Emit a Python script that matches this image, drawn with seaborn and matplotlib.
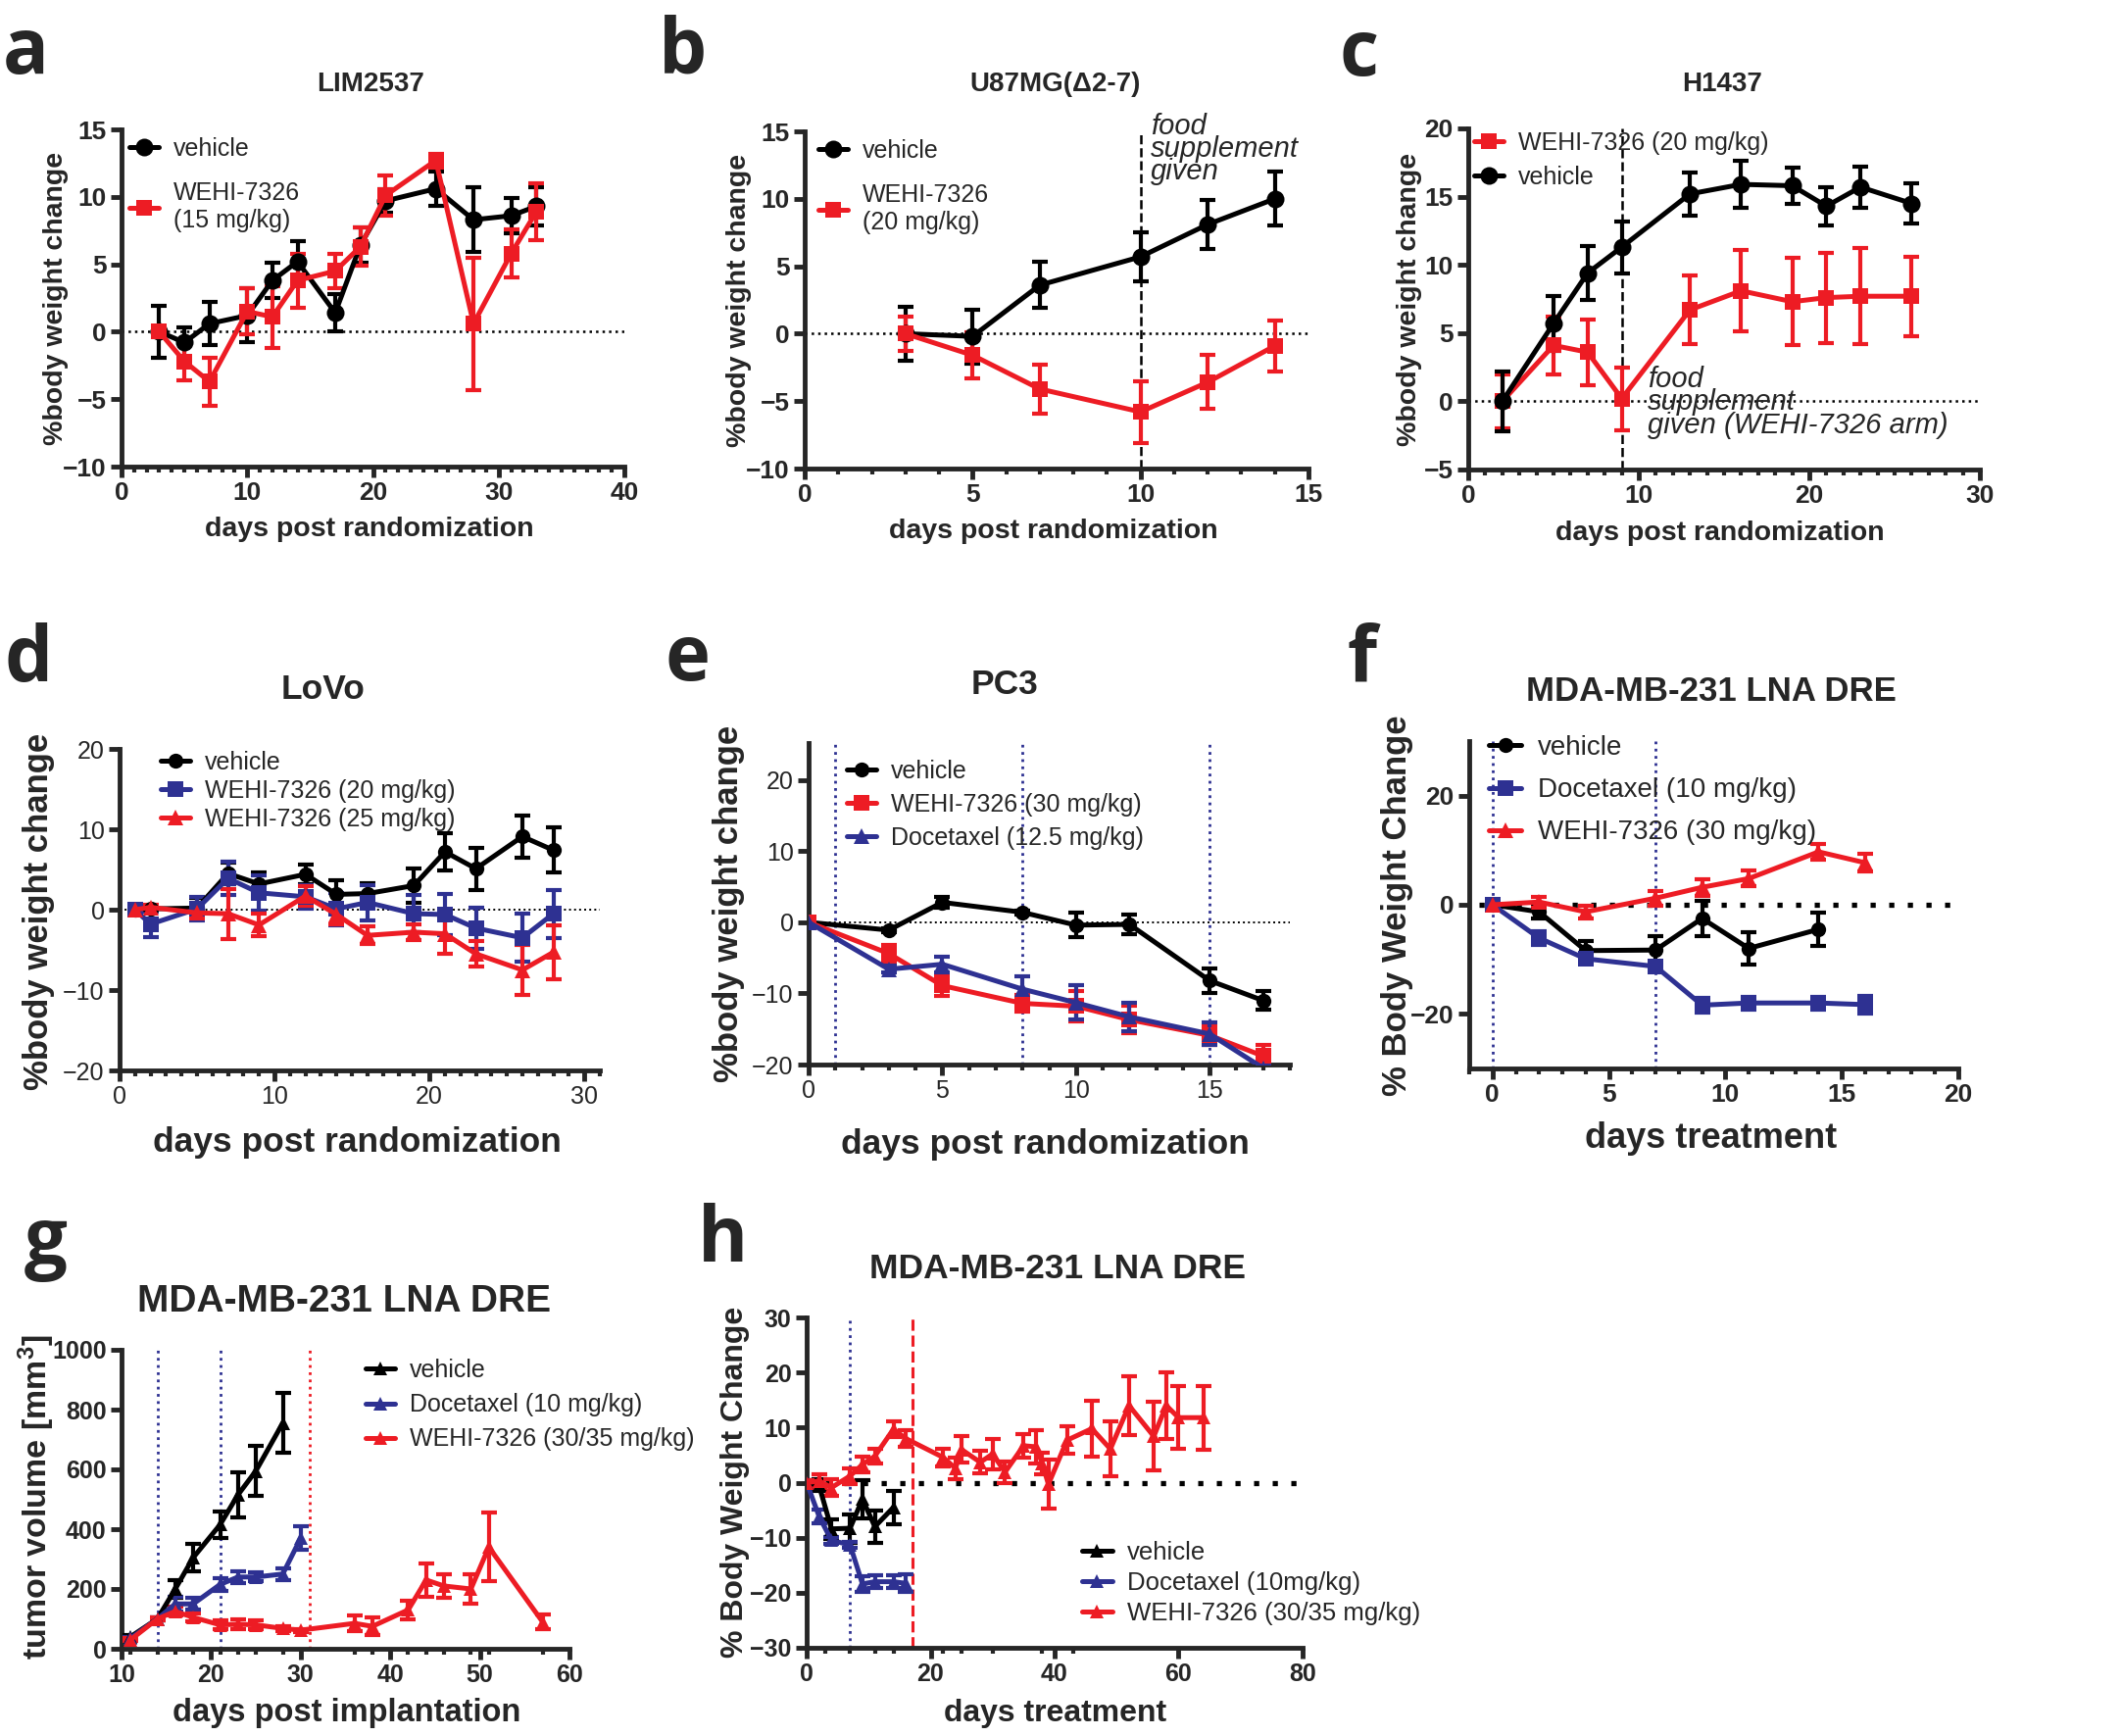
import numpy as np
import pandas as pd
import matplotlib
matplotlib.use('Agg')
import matplotlib.pyplot as plt
import seaborn as sns
from matplotlib.ticker import MultipleLocator, FixedLocator

# ---- data ----
# a  LIM2537
a_days = [3, 5, 7, 10, 12, 14, 17, 19, 21, 25, 28, 31, 33]
a_veh = [0.0, -0.8, 0.6, 1.2, 3.8, 5.2, 1.4, 6.4, 9.7, 10.6, 8.3, 8.6, 9.3]
a_veh_err = [1.9, 1.1, 1.6, 2.0, 1.3, 1.5, 1.4, 1.3, 0.9, 1.3, 2.4, 1.3, 1.4]
a_wehi = [0.0, -2.2, -3.7, 1.5, 1.1, 3.8, 4.5, 6.3, 10.1, 12.7, 0.6, 5.8, 8.9]
a_wehi_err = [0.3, 1.4, 1.8, 1.7, 2.3, 2.0, 1.3, 1.4, 1.5, 0.5, 4.9, 1.8, 2.1]

# b  U87MG
b_days = [3, 5, 7, 10, 12, 14]
b_veh = [0.0, -0.2, 3.6, 5.7, 8.1, 10.0]
b_veh_err = [2.0, 2.0, 1.7, 1.8, 1.8, 2.0]
b_wehi = [0.0, -1.6, -4.1, -5.8, -3.6, -0.9]
b_wehi_err = [1.3, 1.7, 1.8, 2.3, 2.0, 1.9]

# c  H1437
c_days = [2, 5, 7, 9, 13, 16, 19, 21, 23, 26]
c_veh = [0.0, 5.7, 9.4, 11.3, 15.2, 15.9, 15.8, 14.3, 15.7, 14.5]
c_veh_err = [2.2, 2.0, 2.0, 1.9, 1.6, 1.7, 1.3, 1.4, 1.5, 1.5]
c_wehi = [0.0, 4.1, 3.6, 0.2, 6.7, 8.1, 7.3, 7.6, 7.7, 7.7]
c_wehi_err = [2.0, 2.1, 2.4, 2.3, 2.5, 3.0, 3.2, 3.3, 3.5, 2.9]

# d  LoVo
d_days = [1, 2, 5, 7, 9, 12, 14, 16, 19, 21, 23, 26, 28]
d_veh = [0.0, 0.1, 0.2, 4.5, 3.2, 4.4, 1.9, 2.0, 3.0, 7.2, 5.1, 9.1, 7.4]
d_veh_err = [0.0, 0.4, 1.3, 1.3, 1.4, 1.2, 1.8, 1.3, 2.1, 2.3, 2.6, 2.6, 2.8]
d_w20 = [0.0, -1.8, 0.1, 3.9, 2.1, 1.6, 0.1, 0.9, -0.5, -0.6, -2.3, -3.5, -0.5]
d_w20_err = [0.3, 1.6, 1.5, 2.1, 2.2, 1.5, 2.0, 2.2, 2.3, 2.6, 2.6, 3.0, 3.0]
d_w25 = [0.0, 0.3, -0.4, -0.5, -1.9, 1.7, -0.6, -3.2, -2.8, -3.0, -5.5, -7.5, -5.3]
d_w25_err = [0.0, 0.3, 0.7, 3.1, 1.4, 1.2, 1.2, 1.1, 1.0, 2.5, 1.6, 3.1, 3.3]

# e  PC3
e_days = [0, 3, 5, 8, 10, 12, 15, 17]
e_veh = [0.0, -1.1, 2.8, 1.4, -0.4, -0.3, -8.2, -11.0]
e_veh_err = [0.3, 0.3, 0.8, 0.3, 1.7, 1.4, 1.7, 1.3]
e_wehi = [0.0, -4.4, -8.9, -11.4, -11.8, -13.7, -15.9, -18.8]
e_wehi_err = [0.3, 1.2, 1.5, 1.2, 2.2, 1.9, 1.4, 1.5]
e_doce = [0.0, -6.6, -5.9, -9.4, -11.3, -13.3, -15.7, -20.5]
e_doce_err = [0.3, 0.5, 1.1, 1.8, 2.4, 2.0, 1.6, 0.5]
e_dose_days = [1, 8, 15]

# f  MDA-MB-231 body weight
f_days_veh = [0, 2, 4, 7, 9, 11, 14]
f_veh = [0.0, -1.3, -8.4, -8.3, -2.5, -8.0, -4.5]
f_veh_err = [0.5, 1.3, 1.8, 2.6, 3.3, 3.0, 3.0]
f_days = [0, 2, 4, 7, 9, 11, 14, 16]
f_doce = [0.0, -6.1, -9.9, -11.3, -18.4, -18.0, -18.0, -18.3]
f_doce_err = [0.5, 1.2, 0.6, 0.6, 1.4, 1.2, 1.2, 1.6]
f_wehi = [0.0, 0.5, -1.3, 1.2, 3.2, 4.8, 9.7, 7.7]
f_wehi_err = [0.5, 1.0, 1.2, 1.4, 1.5, 1.4, 1.4, 1.6]
f_dose_days = [0, 7]

# g  MDA-MB-231 tumour volume
g_days_veh = [11, 14, 16, 18, 21, 23, 25, 28]
g_veh = [40, 100, 200, 305, 415, 515, 595, 755]
g_veh_err = [5, 5, 30, 45, 45, 75, 85, 100]
g_days_doce = [11, 14, 16, 18, 21, 23, 25, 28, 30]
g_doce = [35, 100, 150, 150, 215, 240, 240, 250, 370]
g_doce_err = [5, 5, 25, 20, 20, 20, 15, 20, 40]
g_days_wehi = [11, 14, 16, 18, 21, 23, 25, 28, 30, 36, 38, 42, 44, 46, 49, 51, 57]
g_wehi = [30, 100, 125, 105, 80, 82, 80, 68, 62, 85, 75, 130, 230, 210, 200, 340, 90]
g_wehi_err = [5, 5, 15, 12, 15, 15, 15, 8, 5, 25, 30, 30, 55, 40, 50, 115, 25]
g_doce_lines = [14, 21]
g_wehi_lines = [31]

# h  MDA-MB-231 body weight, long term
h_days_veh = [0, 2, 4, 7, 9, 11, 14]
h_veh = [0.0, -0.5, -8.4, -8.3, -3.0, -8.0, -4.5]
h_veh_err = [0.5, 1.1, 1.8, 2.6, 3.5, 3.0, 3.0]
h_days_doce = [0, 2, 4, 7, 9, 11, 14, 16]
h_doce = [0.0, -6.1, -10.5, -11.3, -18.4, -18.0, -18.0, -18.3]
h_doce_err = [0.5, 1.2, 0.6, 0.6, 1.4, 1.2, 1.2, 1.6]
h_days_wehi = [0, 2, 4, 7, 9, 11, 14, 16, 22, 24, 25, 28, 30, 32, 35, 37, 38, 39,
               42, 46, 49, 52, 56, 58, 60, 64]
h_wehi = [0.0, 0.3, -0.9, 1.2, 3.3, 4.8, 9.7, 8.0, 4.6, 2.6, 6.0, 3.7, 5.2, 1.9,
          6.7, 6.5, 3.5, -0.3, 7.7, 9.8, 6.1, 14.0, 8.4, 14.0, 11.8, 11.8]
h_wehi_err = [0.5, 1.2, 1.5, 1.4, 1.5, 1.4, 1.5, 1.5, 1.6, 2.0, 2.4, 2.0, 2.8, 2.0,
              2.1, 3.1, 1.9, 4.5, 2.5, 5.1, 5.0, 5.3, 6.2, 6.1, 5.7, 5.8]

RED = '#ED1C24'
BLUE = '#2E3192'
BLACK = '#000000'

W, H = 2164, 1771
sns.set_theme(style='ticks')
plt.rcParams['font.family'] = ['Liberation Sans', 'DejaVu Sans']
plt.rcParams['axes.linewidth'] = 3.5
plt.rcParams['mathtext.default'] = 'regular'

fig = plt.figure(figsize=(W / 100, H / 100), dpi=100)


def make_ax(x0, x1, y0, y1):
    # pixel box -> figure axes
    return fig.add_axes([x0 / W, 1 - y1 / H, (x1 - x0) / W, (y1 - y0) / H])


def ftext(x, y, s, **kw):
    fig.text(x / W, 1 - y / H, s, **kw)


def series(ax, days, vals, errs, color, marker, label, ms=12, lw=3.6):
    ax.errorbar(days, vals, yerr=errs, fmt='none', ecolor=color, elinewidth=3,
                capsize=6, capthick=3, zorder=3, clip_on=True)
    df = pd.DataFrame({'d': days, 'v': vals})
    sns.lineplot(data=df, x='d', y='v', color=color, marker=marker, markersize=ms,
                 markeredgecolor=color, markeredgewidth=0, linewidth=lw,
                 label=label, ax=ax, zorder=4, errorbar=None, sort=False)


def style(ax, bold_ticks=True, tsize=16):
    sns.despine(ax=ax)
    ax.tick_params(which='major', length=8, width=3.5, labelsize=tsize, pad=3)
    ax.tick_params(which='minor', length=4, width=3)
    ax.set_xlabel('')
    ax.set_ylabel('')
    for lab in ax.get_xticklabels() + ax.get_yticklabels():
        lab.set_fontweight('bold' if bold_ticks else 'normal')


def legend(ax, order, x, y, size=16, spacing=0.3):
    hs, ls = ax.get_legend_handles_labels()
    hs = [hs[i] for i in order]
    ls = [ls[i] for i in order]
    ax.legend(hs, ls, loc='upper left', bbox_to_anchor=(x / W, 1 - y / H),
              bbox_transform=fig.transFigure, frameon=False, borderpad=0,
              borderaxespad=0, handlelength=1.2, handletextpad=0.6,
              labelspacing=spacing, prop={'size': size})


def letter(x, y, s):
    ftext(x, y, s, fontsize=56, fontweight='bold', family=['Open Sans', 'DejaVu Sans'],
          va='baseline', ha='left')


# ---------- a ----------
ax = make_ax(124, 637, 132, 476)
ax.axhline(0, color='black', lw=1.8, ls=':', zorder=1)
series(ax, a_days, a_veh, a_veh_err, BLACK, 'o', 'vehicle', ms=13)
series(ax, a_days, a_wehi, a_wehi_err, RED, 's', 'WEHI-7326\n(15 mg/kg)', ms=12)
ax.set_xlim(0, 40)
ax.set_ylim(-10, 15)
ax.set_yticks([-10, -5, 0, 5, 10, 15])
ax.set_xticks([0, 10, 20, 30, 40])
ax.xaxis.set_minor_locator(MultipleLocator(1))
style(ax, tsize=19)
legend(ax, [0, 1], 132, 140, size=18, spacing=0.85)
ftext(378, 93, 'LIM2537', fontsize=20, fontweight='bold', ha='center', va='baseline')
ftext(377, 547, 'days post randomization', fontsize=20.5, fontweight='bold', ha='center', va='baseline')
ftext(57, 304, '%body weight change', fontsize=20.5, fontweight='bold', ha='center', va='center', rotation=90)
letter(3, 75, 'a')

# ---------- b ----------
ax = make_ax(821, 1335, 134, 478)
ax.axhline(0, color='black', lw=1.8, ls=':', zorder=1)
ax.axvline(10, color='black', lw=1.8, ls='--', zorder=1)
series(ax, b_days, b_veh, b_veh_err, BLACK, 'o', 'vehicle', ms=13)
series(ax, b_days, b_wehi, b_wehi_err, RED, 's', 'WEHI-7326\n(20 mg/kg)', ms=12)
ax.set_xlim(0, 15)
ax.set_ylim(-10, 15)
ax.set_yticks([-10, -5, 0, 5, 10, 15])
ax.set_xticks([0, 5, 10, 15])
ax.xaxis.set_minor_locator(MultipleLocator(1))
style(ax, tsize=19)
legend(ax, [0, 1], 835, 142, size=18, spacing=0.85)
ax.text(10.3, 16.4, 'food\nsupplement\ngiven', fontsize=21, style='italic', va='top',
        ha='left', linespacing=0.78, clip_on=False)
ftext(1077, 93, 'U87MG(\u03942-7)', fontsize=20, fontweight='bold', ha='center', va='baseline')
ftext(1075, 549, 'days post randomization', fontsize=20.5, fontweight='bold', ha='center', va='baseline')
ftext(754, 306, '%body weight change', fontsize=20.5, fontweight='bold', ha='center', va='center', rotation=90)
letter(672, 75, 'b')

# ---------- c ----------
ax = make_ax(1498, 2020, 131, 479)
ax.axhline(0, color='black', lw=1.8, ls=':', zorder=1)
ax.axvline(9, color='black', lw=1.8, ls='--', zorder=1)
series(ax, c_days, c_wehi, c_wehi_err, RED, 's', 'WEHI-7326 (20 mg/kg)', ms=12)
series(ax, c_days, c_veh, c_veh_err, BLACK, 'o', 'vehicle', ms=13)
ax.set_xlim(0, 30)
ax.set_ylim(-5, 20)
ax.set_yticks([-5, 0, 5, 10, 15, 20])
ax.set_xticks([0, 10, 20, 30])
ax.xaxis.set_minor_locator(MultipleLocator(1))
style(ax, tsize=19)
legend(ax, [0, 1], 1504, 134, size=18, spacing=0.42)
ax.text(10.5, 2.6, 'food\nsupplement\ngiven (WEHI-7326 arm)', fontsize=21, style='italic',
        va='top', ha='left', linespacing=0.78)
ftext(1757, 93, 'H1437', fontsize=20, fontweight='bold', ha='center', va='baseline')
ftext(1755, 551, 'days post randomization', fontsize=20.5, fontweight='bold', ha='center', va='baseline')
ftext(1438, 305, '%body weight change', fontsize=20.5, fontweight='bold', ha='center', va='center', rotation=90)
letter(1367, 77, 'c')

# ---------- d ----------
ax = make_ax(122, 612, 764, 1092)
ax.axhline(0, color='black', lw=1.4, ls=':', zorder=1)
series(ax, d_days, d_veh, d_veh_err, BLACK, 'o', 'vehicle', ms=11)
series(ax, d_days, d_w20, d_w20_err, BLUE, 's', 'WEHI-7326 (20 mg/kg)', ms=11)
series(ax, d_days, d_w25, d_w25_err, RED, '^', 'WEHI-7326 (25 mg/kg)', ms=11)
ax.set_xlim(0, 31)
ax.set_ylim(-20, 20)
ax.set_yticks([-20, -10, 0, 10, 20])
ax.set_xticks([0, 10, 20, 30])
ax.xaxis.set_minor_locator(MultipleLocator(1))
style(ax, bold_ticks=False, tsize=18)
legend(ax, [0, 1, 2], 164, 766, size=18, spacing=0.2)
ftext(330, 713, 'LoVo', fontsize=25.5, fontweight='bold', ha='center', va='baseline')
ftext(364, 1175, 'days post randomization', fontsize=25.5, fontweight='bold', ha='center', va='baseline')
ftext(40, 930, '%body weight change', fontsize=25, fontweight='bold', ha='center', va='center', rotation=90)
letter(4, 695, 'd')

# ---------- e ----------
ax = make_ax(825, 1316, 758, 1086)
ax.axhline(0, color='black', lw=1.4, ls=':', zorder=1)
for d in e_dose_days:
    ax.axvline(d, color=BLUE, lw=2, ls=':', zorder=1)
series(ax, e_days, e_veh, e_veh_err, BLACK, 'o', 'vehicle', ms=11)
series(ax, e_days, e_wehi, e_wehi_err, RED, 's', 'WEHI-7326 (30 mg/kg)', ms=11)
series(ax, e_days, e_doce, e_doce_err, BLUE, '^', 'Docetaxel (12.5 mg/kg)', ms=11)
ax.set_xlim(0, 18)
ax.set_ylim(-20, 25.2)
ax.set_yticks([-20, -10, 0, 10, 20])
ax.set_xticks([0, 5, 10, 15])
ax.xaxis.set_minor_locator(MultipleLocator(1))
style(ax, bold_ticks=False, tsize=18)
legend(ax, [0, 1, 2], 864, 775, size=18, spacing=0.4)
ftext(1025, 708, 'PC3', fontsize=25.5, fontweight='bold', ha='center', va='baseline')
ftext(1066, 1177, 'days post randomization', fontsize=25.5, fontweight='bold', ha='center', va='baseline')
ftext(743, 922, '%body weight change', fontsize=25, fontweight='bold', ha='center', va='center', rotation=90)
letter(678, 694, 'e')

# ---------- f ----------
ax = make_ax(1499, 1998, 756, 1090)
ax.axhline(0, color='black', lw=3.8, ls=(0, (1, 2.6)), xmin=0.02, xmax=1.0, zorder=1)
for d in f_dose_days:
    ax.axvline(d, color=BLUE, lw=2, ls=':', zorder=1)
series(ax, f_days_veh, f_veh, f_veh_err, BLACK, 'o', 'vehicle', ms=11)
series(ax, f_days, f_doce, f_doce_err, BLUE, 's', 'Docetaxel (10 mg/kg)', ms=11)
series(ax, f_days, f_wehi, f_wehi_err, RED, '^', 'WEHI-7326 (30 mg/kg)', ms=11)
ax.set_xlim(-1, 20)
ax.set_ylim(-30, 30)
ax.set_yticks([-20, 0, 20])
ax.set_xticks([0, 5, 10, 15, 20])
ax.xaxis.set_minor_locator(MultipleLocator(1))
style(ax, tsize=19)
legend(ax, [0, 1, 2], 1519, 750, size=20, spacing=0.62)
ftext(1746, 715, 'MDA-MB-231 LNA DRE', fontsize=25, fontweight='bold', ha='center', va='baseline')
ftext(1746, 1171, 'days treatment', fontsize=26, fontweight='bold', ha='center', va='baseline')
ftext(1425, 924, '% Body Weight Change', fontsize=25, fontweight='bold', ha='center', va='center', rotation=90)
letter(1375, 695, 'f')

# ---------- g ----------
ax = make_ax(124, 581, 1377, 1682)
for d in g_doce_lines:
    ax.axvline(d, color=BLUE, lw=2, ls=':', zorder=1)
for d in g_wehi_lines:
    ax.axvline(d, color=RED, lw=2, ls=':', zorder=1)
series(ax, g_days_veh, g_veh, g_veh_err, BLACK, '^', 'vehicle', ms=10)
series(ax, g_days_doce, g_doce, g_doce_err, BLUE, '^', 'Docetaxel (10 mg/kg)', ms=10)
series(ax, g_days_wehi, g_wehi, g_wehi_err, RED, '^', 'WEHI-7326 (30/35 mg/kg)', ms=10)
ax.set_xlim(10, 60)
ax.set_ylim(0, 1000)
ax.set_yticks([0, 200, 400, 600, 800, 1000])
ax.set_xticks([10, 20, 30, 40, 50, 60])
ax.xaxis.set_minor_locator(FixedLocator(sorted(set(g_days_wehi))))
style(ax, tsize=18)
legend(ax, [0, 1, 2], 373, 1386, size=18, spacing=0.45)
ftext(351, 1338, 'MDA-MB-231 LNA DRE', fontsize=28, fontweight='bold', ha='center', va='baseline')
ftext(354, 1756, 'days post implantation', fontsize=23.5, fontweight='bold', ha='center', va='baseline')
ftext(37, 1527, 'tumor volume [mm$^3$]', fontsize=24.5, fontweight='bold', ha='center', va='center', rotation=90)
letter(25, 1289, 'g')

# ---------- h ----------
ax = make_ax(823, 1329, 1344, 1681)
ax.axhline(0, color='black', lw=3.8, ls=(0, (1, 2.6)), xmax=0.99, zorder=1)
ax.axvline(7, color=BLUE, lw=2, ls=':', zorder=1)
ax.axvline(17, color=RED, lw=2.2, ls='--', zorder=1)
series(ax, h_days_veh, h_veh, h_veh_err, BLACK, '^', 'vehicle', ms=10)
series(ax, h_days_doce, h_doce, h_doce_err, BLUE, '^', 'Docetaxel (10mg/kg)', ms=10)
series(ax, h_days_wehi, h_wehi, h_wehi_err, RED, '^', 'WEHI-7326 (30/35 mg/kg)', ms=10)
ax.set_xlim(0, 80)
ax.set_ylim(-30, 30)
ax.set_yticks([-30, -20, -10, 0, 10, 20, 30])
ax.set_xticks([0, 20, 40, 60, 80])
ax.xaxis.set_minor_locator(FixedLocator([3, 7, 11, 14, 22, 25, 30, 38, 43]))
style(ax, tsize=18)
legend(ax, [0, 1, 2], 1104, 1572, size=18.5, spacing=0.28)
ftext(1079, 1304, 'MDA-MB-231 LNA DRE', fontsize=25.5, fontweight='bold', ha='center', va='baseline')
ftext(1077, 1756, 'days treatment', fontsize=23, fontweight='bold', ha='center', va='baseline')
ftext(750, 1512, '% Body Weight Change', fontsize=23, fontweight='bold', ha='center', va='center', rotation=90)
letter(712, 1287, 'h')

fig.savefig('out.png', dpi=100, facecolor='white')
